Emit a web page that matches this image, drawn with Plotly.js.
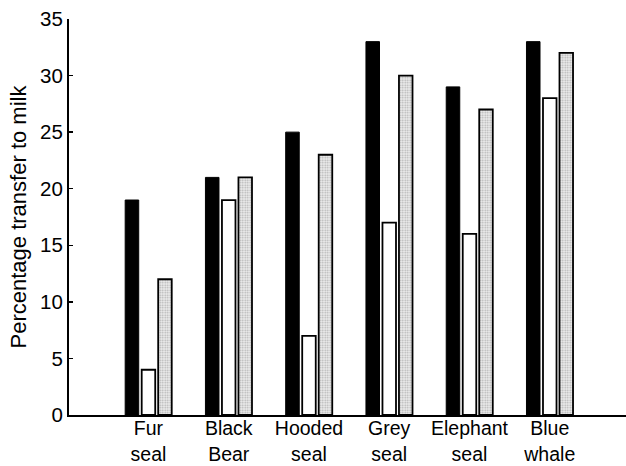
<!DOCTYPE html>
<html>
<head>
<meta charset="utf-8">
<script src="https://cdn.plot.ly/plotly-3.0.1.min.js"></script>
<style>html,body{margin:0;padding:0;background:#fff;}#chart{width:626px;height:466px;}</style>
</head>
<body>
<div id="chart"></div>
<script>
const categories = ["Fur<br>seal", "Black<br>Bear", "Hooded<br>seal", "Grey<br>seal", "Elephant<br>seal", "Blue<br>whale"];
const seriesBlack = [19, 21, 25, 33, 29, 33];
const seriesWhite = [4, 19, 7, 17, 16, 28];
const seriesGray = [12, 21, 23, 30, 27, 32];
const yTicks = [0, 5, 10, 15, 20, 25, 30, 35];

const traces = [
  {type: 'bar', x: categories, y: seriesBlack, marker: {color: '#000', line: {color: '#000', width: 1}}},
  {type: 'bar', x: categories, y: seriesWhite, marker: {color: '#fff', line: {color: '#000', width: 1.8}}},
  {type: 'bar', x: categories, y: seriesGray, marker: {color: '#dcdcdc', line: {color: '#000', width: 1.8},
    pattern: {shape: '.', fgcolor: '#b0b0b0', bgcolor: '#eeeeee', size: 2.5, solidity: 0.4}}}
];

const layout = {
  width: 626, height: 466,
  margin: {l: 69, r: 0, t: 19, b: 51},
  paper_bgcolor: '#fff', plot_bgcolor: '#fff',
  showlegend: false,
  barmode: 'group', bargap: 0.383, bargroupgap: 0.18,
  font: {family: 'Liberation Sans, Arial, sans-serif', color: '#000'},
  xaxis: {
    type: 'category', range: [-0.99, 5.95],
    showline: true, linecolor: '#000', linewidth: 2,
    ticks: '', showgrid: false, zeroline: false,
    tickfont: {size: 19.5, color: '#000'},
    ticklabelstandoff: -5
  },
  yaxis: {
    range: [0, 35], tickvals: yTicks, ticktext: yTicks.map(String),
    showline: true, linecolor: '#000', linewidth: 2,
    ticks: 'inside', ticklen: 4, tickwidth: 1.5, tickcolor: '#000',
    showgrid: false, zeroline: false,
    tickfont: {size: 20.5, color: '#000'},
    title: {text: 'Percentage transfer to milk', font: {size: 22, color: '#000'}, standoff: 7}
  }
};

Plotly.newPlot('chart', traces, layout, {displayModeBar: false, staticPlot: true});
</script>
</body>
</html>
